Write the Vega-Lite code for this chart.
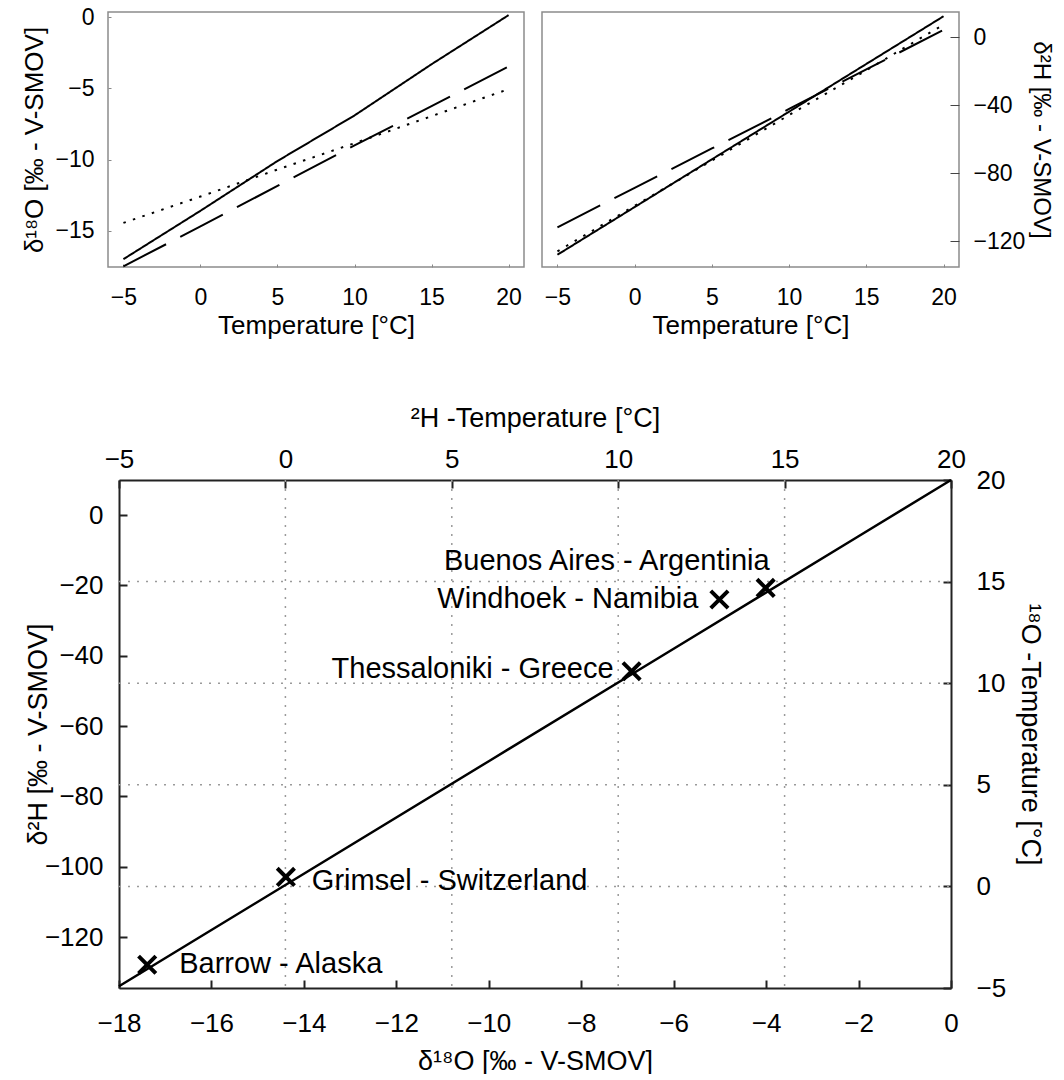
{
  "$schema": "https://vega.github.io/schema/vega-lite/v6.json",
  "background": "white",
  "padding": {"left": 21, "top": 5, "right": 0, "bottom": 0},
  "config": {
    "font": "Liberation Sans",
    "view": {"stroke": "#8c8c8c", "strokeWidth": 1.5},
    "axis": {"labelColor": "#000", "titleColor": "#000", "titleFontWeight": "normal", "grid": false, "labelFlush": false, "labelOverlap": false, "labelFont": "Liberation Sans", "titleFont": "Liberation Sans"},
    "line": {"color": "black"}
  },
  "datasets": {
    "curves": [
      {"iso": "O18", "style": "solid", "T": -5, "v": -17.0},
      {"iso": "O18", "style": "solid", "T": 0, "v": -13.6},
      {"iso": "O18", "style": "solid", "T": 5, "v": -10.1},
      {"iso": "O18", "style": "solid", "T": 10, "v": -6.9},
      {"iso": "O18", "style": "solid", "T": 15, "v": -3.3},
      {"iso": "O18", "style": "solid", "T": 20, "v": 0.15},
      {"iso": "O18", "style": "dashed", "T": -5, "v": -17.5},
      {"iso": "O18", "style": "dashed", "T": 0, "v": -14.7},
      {"iso": "O18", "style": "dashed", "T": 5, "v": -11.85},
      {"iso": "O18", "style": "dashed", "T": 10, "v": -9.0},
      {"iso": "O18", "style": "dashed", "T": 15, "v": -6.25},
      {"iso": "O18", "style": "dashed", "T": 20, "v": -3.45},
      {"iso": "O18", "style": "dotted", "T": -5, "v": -14.45},
      {"iso": "O18", "style": "dotted", "T": 0, "v": -12.6},
      {"iso": "O18", "style": "dotted", "T": 5, "v": -10.7},
      {"iso": "O18", "style": "dotted", "T": 10, "v": -8.85},
      {"iso": "O18", "style": "dotted", "T": 15, "v": -6.95},
      {"iso": "O18", "style": "dotted", "T": 20, "v": -5.05},
      {"iso": "H2", "style": "solid", "T": -5, "v": -127.8},
      {"iso": "H2", "style": "solid", "T": 0, "v": -99.8},
      {"iso": "H2", "style": "solid", "T": 5, "v": -71.8},
      {"iso": "H2", "style": "solid", "T": 10, "v": -43.8},
      {"iso": "H2", "style": "solid", "T": 15, "v": -15.8},
      {"iso": "H2", "style": "solid", "T": 20, "v": 12.2},
      {"iso": "H2", "style": "dashed", "T": -5, "v": -111.7},
      {"iso": "H2", "style": "dashed", "T": 0, "v": -88.5},
      {"iso": "H2", "style": "dashed", "T": 5, "v": -65.4},
      {"iso": "H2", "style": "dashed", "T": 9, "v": -47.0},
      {"iso": "H2", "style": "dashed", "T": 10, "v": -42.2},
      {"iso": "H2", "style": "dashed", "T": 15, "v": -19.0},
      {"iso": "H2", "style": "dashed", "T": 20, "v": 4.2},
      {"iso": "H2", "style": "dotted", "T": -5, "v": -125.8},
      {"iso": "H2", "style": "dotted", "T": 0, "v": -99.1},
      {"iso": "H2", "style": "dotted", "T": 5, "v": -72.5},
      {"iso": "H2", "style": "dotted", "T": 10, "v": -45.8},
      {"iso": "H2", "style": "dotted", "T": 15, "v": -19.5},
      {"iso": "H2", "style": "dotted", "T": 20, "v": 7.3}
    ],
    "mwl": [
      {"d18O": -18, "d2H": -134},
      {"d18O": -14, "d2H": -102},
      {"d18O": -10, "d2H": -70},
      {"d18O": -6, "d2H": -38},
      {"d18O": -2, "d2H": -6},
      {"d18O": 0, "d2H": 10}
    ],
    "sites": [
      {"site": "Buenos Aires - Argentinia", "d18O": -4.01, "d2H": -20.7},
      {"site": "Windhoek - Namibia", "d18O": -5.01, "d2H": -24.0},
      {"site": "Thessaloniki - Greece", "d18O": -6.91, "d2H": -44.4},
      {"site": "Grimsel - Switzerland", "d18O": -14.39, "d2H": -102.9},
      {"site": "Barrow - Alaska", "d18O": -17.39, "d2H": -127.9}
    ],
    "tgrid": [{"T": 0}, {"T": 5}, {"T": 10}, {"T": 15}]
  },
  "spacing": 65,
  "vconcat": [
    {
      "spacing": 16,
      "hconcat": [
        {
          "width": 416,
          "height": 255,
          "data": {"name": "curves"},
          "transform": [{"filter": "datum.iso == 'O18'"}],
          "mark": {"type": "line", "color": "black", "strokeWidth": 2},
          "encoding": {
            "x": {"field": "T", "type": "quantitative",
              "scale": {"domain": [-6, 21], "nice": false, "zero": false},
              "axis": {"values": [-5, 0, 5, 10, 15, 20], "title": "Temperature [°C]", "domain": false, "tickSize": -3, "tickColor": "#888", "labelFontSize": 23, "labelPadding": 22, "titleFontSize": 26, "titlePadding": 3}},
            "y": {"field": "v", "type": "quantitative",
              "scale": {"domain": [-17.55, 0.37], "nice": false, "zero": false},
              "axis": {"values": [0, -5, -10, -15], "title": "δ¹⁸O [‰ - V-SMOV]", "domain": false, "tickSize": -3, "tickColor": "#888", "labelFontSize": 23, "labelPadding": 17, "titleFontSize": 26, "titlePadding": 7}},
            "strokeDash": {"field": "style", "type": "nominal",
              "scale": {"domain": ["solid", "dashed", "dotted"], "range": [[1, 0], [48, 16], [2.5, 7.5]]}, "legend": null}
          }
        },
        {
          "width": 417,
          "height": 255,
          "data": {"name": "curves"},
          "transform": [{"filter": "datum.iso == 'H2'"}],
          "mark": {"type": "line", "color": "black", "strokeWidth": 2},
          "encoding": {
            "x": {"field": "T", "type": "quantitative",
              "scale": {"domain": [-6, 21], "nice": false, "zero": false},
              "axis": {"values": [-5, 0, 5, 10, 15, 20], "title": "Temperature [°C]", "domain": false, "tickSize": -3, "tickColor": "#888", "labelFontSize": 23, "labelPadding": 22, "titleFontSize": 26, "titlePadding": 3}},
            "y": {"field": "v", "type": "quantitative",
              "scale": {"domain": [-135, 14.7], "nice": false, "zero": false},
              "axis": {"orient": "right", "values": [0, -40, -80, -120], "title": "δ²H [‰ - V-SMOV]", "domain": false, "tickSize": -9, "tickColor": "#444", "labelFontSize": 23, "labelPadding": 23, "titleFontSize": 24, "titlePadding": 4}},
            "strokeDash": {"field": "style", "type": "nominal",
              "scale": {"domain": ["solid", "dashed", "dotted"], "range": [[1, 0], [47, 17], [2.5, 7.5]]}, "legend": null}
          }
        }
      ]
    },
    {
      "width": 843,
      "height": 508,
      "view": {"stroke": null},
      "resolve": {"scale": {"x": "independent", "y": "independent"}},
      "layer": [
        {
          "data": {"name": "tgrid"},
          "layer": [
            {
              "mark": {"type": "rule", "color": "#9a9a9a", "strokeWidth": 1.5, "strokeDash": [2, 7]},
              "encoding": {
                "x": {"field": "T", "type": "quantitative", "title": "²H -Temperature [°C]",
                  "scale": {"domain": [-5, 20], "range": [11, 843], "nice": false, "zero": false},
                  "axis": {"orient": "top", "values": [-5, 0, 5, 10, 15, 20], "domainColor": "#222", "domainWidth": 2, "tickSize": -8, "tickWidth": 2, "tickColor": "#222", "labelFontSize": 26, "labelPadding": 16, "titleFontSize": 27, "titlePadding": 14}}
              }
            },
            {
              "mark": {"type": "rule", "color": "#9a9a9a", "strokeWidth": 1.5, "strokeDash": [2, 7]},
              "encoding": {
                "y": {"field": "T", "type": "quantitative", "title": "¹⁸O -Temperature [°C]",
                  "scale": {"domain": [-5, 20], "nice": false, "zero": false},
                  "axis": {"orient": "right", "values": [-5, 0, 5, 10, 15, 20], "domainColor": "#222", "domainWidth": 2, "tickSize": -8, "tickWidth": 2, "tickColor": "#222", "labelFontSize": 26, "labelPadding": 33, "titleFontSize": 27, "titlePadding": 10}},
                "x": {"datum": -5, "type": "quantitative", "title": "²H -Temperature [°C]"},
                "x2": {"datum": 20}
              }
            }
          ]
        },
        {
          "encoding": {
            "x": {"field": "d18O", "type": "quantitative", "title": "δ¹⁸O [‰ - V-SMOV]",
              "scale": {"domain": [-18, 0], "range": [11, 843], "nice": false, "zero": false},
              "axis": {"orient": "bottom", "values": [-18, -16, -14, -12, -10, -8, -6, -4, -2, 0], "domainColor": "#222", "domainWidth": 2, "tickSize": -8, "tickWidth": 2, "tickColor": "#222", "labelFontSize": 26, "labelPadding": 30, "titleFontSize": 27, "titlePadding": 12}},
            "y": {"field": "d2H", "type": "quantitative", "title": "δ²H [‰ - V-SMOV]",
              "scale": {"domain": [-134.5, 10], "nice": false, "zero": false},
              "axis": {"orient": "left", "offset": -11, "values": [0, -20, -40, -60, -80, -100, -120], "domainColor": "#222", "domainWidth": 2, "tickSize": -8, "tickWidth": 2, "tickColor": "#222", "labelFontSize": 26, "labelPadding": 24, "titleFontSize": 27, "titlePadding": -8}}
          },
          "layer": [
            {"data": {"name": "mwl"}, "mark": {"type": "line", "color": "black", "strokeWidth": 2.5}},
            {"data": {"name": "sites"}, "mark": {"type": "point", "shape": "M-1,-1L1,1M1,-1L-1,1", "filled": false, "stroke": "black", "strokeWidth": 4, "size": 300, "opacity": 1}},
            {"data": {"name": "sites"}, "transform": [{"filter": "datum.site == 'Buenos Aires - Argentinia'"}],
             "mark": {"type": "text", "align": "right", "baseline": "alphabetic", "dx": 4, "dy": -18, "fontSize": 29, "font": "Liberation Sans", "color": "black"},
             "encoding": {"text": {"field": "site"}}},
            {"data": {"name": "sites"}, "transform": [{"filter": "datum.site == 'Windhoek - Namibia'"}],
             "mark": {"type": "text", "align": "right", "baseline": "alphabetic", "dx": -21, "dy": 8, "fontSize": 29, "font": "Liberation Sans", "color": "black"},
             "encoding": {"text": {"field": "site"}}},
            {"data": {"name": "sites"}, "transform": [{"filter": "datum.site == 'Thessaloniki - Greece'"}],
             "mark": {"type": "text", "align": "right", "baseline": "alphabetic", "dx": -18, "dy": 7, "fontSize": 29, "font": "Liberation Sans", "color": "black"},
             "encoding": {"text": {"field": "site"}}},
            {"data": {"name": "sites"}, "transform": [{"filter": "datum.site == 'Grimsel - Switzerland'"}],
             "mark": {"type": "text", "align": "left", "baseline": "alphabetic", "dx": 26, "dy": 13, "fontSize": 29, "font": "Liberation Sans", "color": "black"},
             "encoding": {"text": {"field": "site"}}},
            {"data": {"name": "sites"}, "transform": [{"filter": "datum.site == 'Barrow - Alaska'"}],
             "mark": {"type": "text", "align": "left", "baseline": "alphabetic", "dx": 32, "dy": 8, "fontSize": 29, "font": "Liberation Sans", "color": "black"},
             "encoding": {"text": {"field": "site"}}}
          ]
        }
      ]
    }
  ]
}
